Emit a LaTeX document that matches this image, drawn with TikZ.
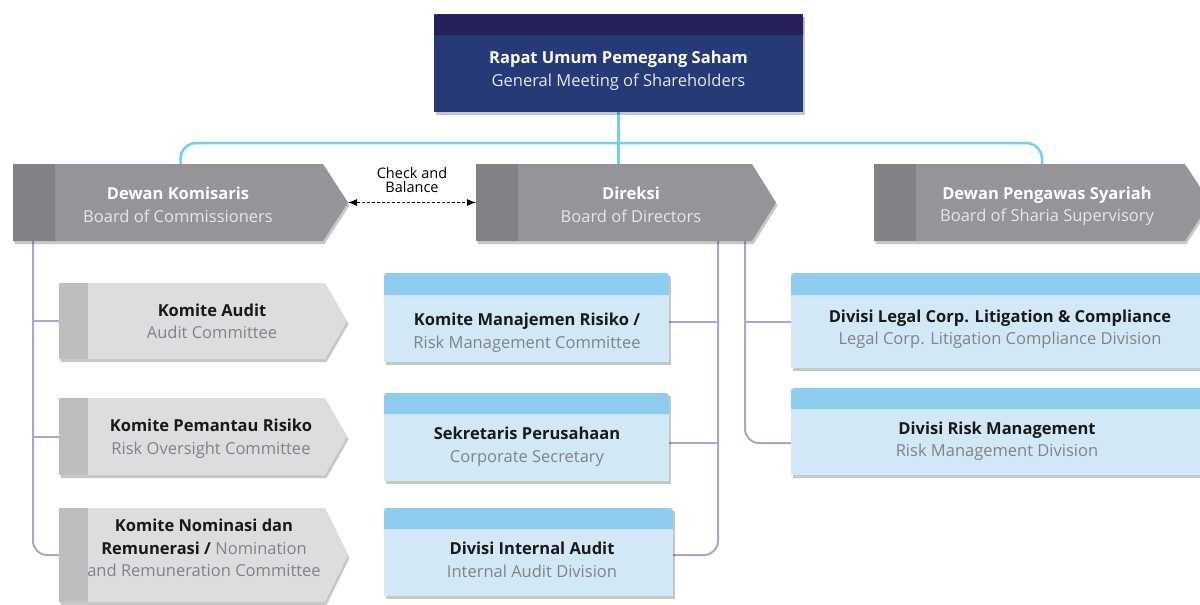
\documentclass[tikz,border=0pt]{standalone}
\usepackage{fontspec}
\setmainfont{Open Sans}
\usetikzlibrary{shadows,fit,arrows.meta}
\definecolor{navyband}{HTML}{25215A}
\definecolor{navybody}{HTML}{263A78}
\definecolor{gbody}{HTML}{939598}
\definecolor{gstrip}{HTML}{808285}
\definecolor{lbody}{HTML}{DCDDDE}
\definecolor{lstrip}{HTML}{BCBEC0}
\definecolor{bband}{HTML}{8DCDEE}
\definecolor{bbody}{HTML}{D2E8F7}
\definecolor{gline}{HTML}{A8A7C7}
\definecolor{bline}{HTML}{6DCFF6}
\definecolor{subgray}{HTML}{808285}
\definecolor{sublight}{HTML}{E6E7E8}
\begin{document}
\begin{tikzpicture}[x=1pt,y=-1pt,
  shd/.style={drop shadow={shadow xshift=1.5pt,shadow yshift=-3pt,opacity=.22,fill=black}},
  boxarea/.style={inner sep=0pt,outer sep=0pt},
  txt/.style={align=center,inner sep=0pt,font=\fontsize{16.5}{22.5}\selectfont},
  txtwhite/.style={txt,text=white},
  txtdark/.style={txt,text=black!90},
  grayconn/.style={draw=gline,line width=2pt},
  blueconn/.style={draw=bline,line width=2.5pt},
  cbarrow/.style={dashed,dash pattern=on 3pt off 2pt,line width=1pt,{Latex[length=9pt,width=7pt]}-{Latex[length=9pt,width=7pt]}}
]
\useasboundingbox (0,0) rectangle (1200,605);

% ---------- box areas (named nodes) ----------
\node[boxarea,fit={(434,14)(803,112)}] (rups) {};
\node[boxarea,fit={(13,164)(348,241)}] (dk) {};
\node[boxarea,fit={(476,164)(776,241)}] (dir) {};
\node[boxarea,fit={(874,164)(1210,241)}] (syr) {};
\node[boxarea,fit={(59,283)(347,359)}] (ka) {};
\node[boxarea,fit={(59,398)(347,475)}] (kp) {};
\node[boxarea,fit={(59,508)(348,602)}] (kn) {};
\node[boxarea,fit={(384,273)(669,362)}] (kmr) {};
\node[boxarea,fit={(384,393)(669,481)}] (sek) {};
\node[boxarea,fit={(384,508)(673,596)}] (dia) {};
\node[boxarea,fit={(791,273)(1210,368)}] (legal) {};
\node[boxarea,fit={(791,388)(1210,475)}] (rm) {};

% ---------- connectors ----------
\coordinate (hub) at ([yshift=-31pt]rups.south);
\draw[blueconn] (rups.south) -- (rups.south |- dir.north);
\draw[blueconn,rounded corners=16pt] (dk.north) |- (hub) -| (syr.north);

\coordinate (vl) at ([xshift=20pt]dk.south west);
\draw[grayconn,rounded corners=14pt] (vl) |- (kn.west);
\draw[grayconn] (vl |- ka.west) -- (ka.west);
\draw[grayconn] (vl |- kp.west) -- (kp.west);

\coordinate (v1) at ([xshift=-58pt]dir.south east);
\coordinate (v2) at ([xshift=-31pt]dir.south east);
\coordinate (kmrA) at ([yshift=-4.5pt]kmr.east);
\coordinate (sekA) at ([yshift=-6pt]sek.east);
\coordinate (diaA) at ([yshift=-3pt]dia.east);
\coordinate (legalA) at ([yshift=-1.5pt]legal.west);
\coordinate (rmA) at ([yshift=-11.5pt]rm.west);
\draw[grayconn,rounded corners=14pt] (v1) |- (diaA);
\draw[grayconn] (kmrA) -- (kmrA -| v1);
\draw[grayconn] (sekA) -- (sekA -| v1);
\draw[grayconn,rounded corners=14pt] (v2) |- (rmA);
\draw[grayconn] (legalA -| v2) -- (legalA);

\draw[cbarrow] (dk.east) -- (dir.west);
\node[align=center,inner sep=0pt,font=\fontsize{14.5}{13.5}\selectfont] (cb) at (412,180) {Check and\\Balance};

% ---------- RUPS ----------
\fill[navybody,shd] (434,14) rectangle (803,112);
\fill[navyband] (434,35) -- (434,17) -- (437,14) -- (800,14) -- (803,17) -- (803,35) -- cycle;
\node[txtwhite] (rupst) at (618.5,70.5) {\textbf{Rapat Umum Pemegang Saham}\\{\color{sublight}General Meeting of Shareholders}};

% ---------- dark pentagons ----------
\fill[gbody,shd] (13,164) -- (323,164) -- (348,202.5) -- (323,241) -- (13,241) -- cycle;
\fill[gstrip] (13,164) rectangle (55,241);
\node[txtwhite] (dkt) at (178,205) {\textbf{Dewan Komisaris}\\{\color{sublight}Board of Commissioners}};

\fill[gbody,shd] (476,164) -- (752,164) -- (776,202.5) -- (752,241) -- (476,241) -- cycle;
\fill[gstrip] (476,164) rectangle (518,241);
\node[txtwhite] (dirt) at (631,205) {\textbf{Direksi}\\{\color{sublight}Board of Directors}};

\fill[gbody,shd] (874,164) -- (1185,164) -- (1210,202.5) -- (1185,241) -- (874,241) -- cycle;
\fill[gstrip] (874,164) rectangle (916,241);
\node[txtwhite] (syrt) at (1047,206) {\textbf{Dewan Pengawas Syariah}\\{\color{sublight}Board of Sharia Supervisory}};

% ---------- light pentagons ----------
\fill[lbody,shd] (59,283) -- (325,283) -- (347,321) -- (325,359) -- (59,359) -- cycle;
\fill[lstrip] (59,283) rectangle (88,359);
\node[txtdark] (kat) at (212,321.5) {\textbf{Komite Audit}\\{\color{subgray}Audit Committee}};

\fill[lbody,shd] (59,398) -- (325,398) -- (347,436.5) -- (325,475) -- (59,475) -- cycle;
\fill[lstrip] (59,398) rectangle (88,475);
\node[txtdark] (kpt) at (211,438.5) {\textbf{Komite Pemantau Risiko}\\{\color{subgray}Risk Oversight Committee}};

\fill[lbody,shd] (59,508) -- (325,508) -- (348,555) -- (325,602) -- (59,602) -- cycle;
\fill[lstrip] (59,508) rectangle (88,602);
\node[txtdark] (knt) at (204,548) {\textbf{Komite Nominasi dan}\\\textbf{Remunerasi /} {\color{subgray}Nomination}\\{\color{subgray}and Remuneration Committee}};

% ---------- blue boxes ----------
\fill[bbody,shd] (384,273) rectangle (669,362);
\fill[bband] (384,295) -- (384,276) -- (387,273) -- (666,273) -- (669,276) -- (669,295) -- cycle;
\node[txtdark] (kmrt) at (527,332.5) {\textbf{Komite Manajemen Risiko /}\\{\color{subgray}Risk Management Committee}};

\fill[bbody,shd] (384,393) rectangle (669,481);
\fill[bband] (384,414) -- (384,396) -- (387,393) -- (666,393) -- (669,396) -- (669,414) -- cycle;
\node[txtdark] (sekt) at (527,446.5) {\textbf{Sekretaris Perusahaan}\\{\color{subgray}Corporate Secretary}};

\fill[bbody,shd] (384,508) rectangle (673,596);
\fill[bband] (384,529) -- (384,511) -- (387,508) -- (670,508) -- (673,511) -- (673,529) -- cycle;
\node[txtdark] (diat) at (532,560) {\textbf{Divisi Internal Audit}\\{\color{subgray}Internal Audit Division}};

\fill[bbody,shd] (791,273) rectangle (1210,368);
\fill[bband] (791,295) -- (791,276) -- (794,273) -- (1210,273) -- (1210,295) -- cycle;
\node[txtdark] (legalt) at (1000,329) {\textbf{Divisi Legal Corp. Litigation \& Compliance}\\{\color{subgray}Legal Corp. Litigation Compliance Division}};

\fill[bbody,shd] (791,388) rectangle (1210,475);
\fill[bband] (791,409) -- (791,391) -- (794,388) -- (1210,388) -- (1210,409) -- cycle;
\node[txtdark] (rmt) at (997,441) {\textbf{Divisi Risk Management}\\{\color{subgray}Risk Management Division}};
\end{tikzpicture}
\end{document}
